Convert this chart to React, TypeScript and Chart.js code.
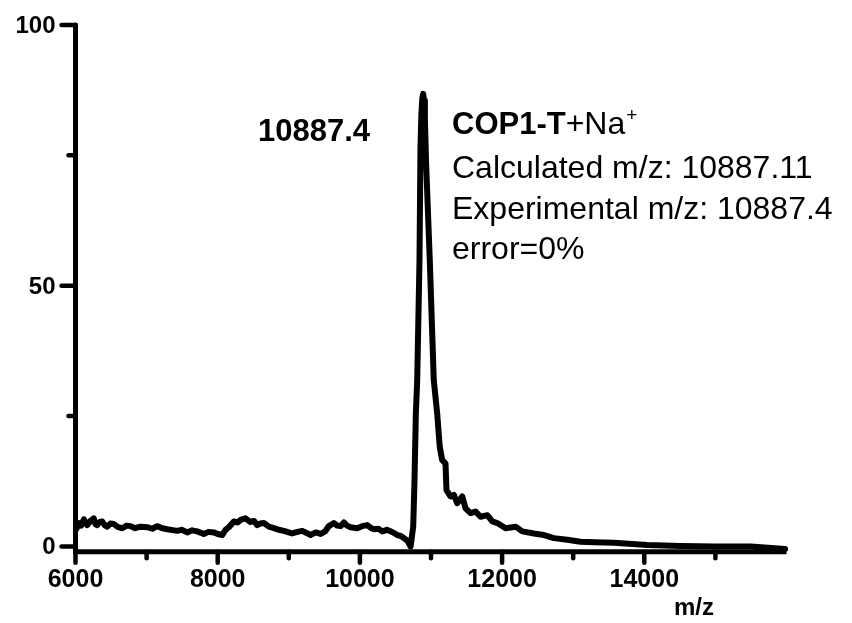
import React, { useEffect, useRef } from "react";
import { Chart, registerables } from "chart.js";

Chart.register(...registerables);

// ---- data ----
const mzValues = [
  6015, 6046, 6080, 6117, 6140, 6164, 6210, 6257, 6280, 6305, 6340, 6375, 6410, 6446, 6490,
  6539, 6600, 6657, 6720, 6774, 6840, 6914, 7008, 7080, 7149, 7220, 7290,
  7430, 7500, 7571, 7640, 7712, 7804, 7870, 7945, 8000, 8063, 8110, 8157, 8227, 8280, 8321,
  8391, 8430, 8462, 8510, 8555, 8600, 8649, 8720, 8790,
  8860, 8930, 9048, 9120, 9189, 9250, 9306, 9380, 9447, 9510, 9564, 9634, 9680, 9728, 9775,
  9820, 9868, 9962, 10030, 10103, 10150, 10197, 10260, 10314,
  10380, 10431, 10480, 10525, 10580, 10619, 10670, 10713, 10750, 10768, 10787, 10806, 10838,
  10852, 10865, 10878, 10890, 10902, 10914,
  10930, 10983, 11039, 11087, 11123, 11157, 11204, 11218, 11274, 11321, 11368, 11439, 11486,
  11556, 11627, 11697, 11791, 11862, 11932, 12049, 12190, 12284, 12447, 12588, 12729, 12916,
  13103, 13300, 13571, 14040, 14509, 15000, 15500, 15980,
];
const intensityValues = [
  3.4, 4.5, 4.0, 5.2, 4.6, 4.1, 4.9, 5.4, 4.3, 4.1, 4.7, 4.8, 4.1, 3.8, 4.4,
  4.3, 3.7, 3.5, 4.0, 3.9, 3.5, 3.8, 3.7, 3.4, 3.9, 3.5, 3.3,
  3.0, 3.2, 2.7, 3.1, 2.9, 2.4, 2.8, 2.7, 2.4, 2.2, 3.2, 3.7, 4.8, 4.6, 5.1,
  5.4, 5.0, 4.7, 4.9, 4.1, 4.4, 4.5, 3.8, 3.5,
  3.2, 3.0, 2.5, 2.8, 3.0, 2.6, 2.2, 2.7, 2.4, 2.9, 3.9, 4.5, 4.0, 3.9, 4.6,
  4.0, 3.7, 3.5, 3.9, 4.1, 3.6, 3.3, 3.4, 2.9,
  3.2, 2.9, 2.6, 2.2, 2.0, 1.6, 1.1, 0.0, 3.8, 12.7, 25.5, 31.9, 54.8,
  76.5, 83.0, 86.0, 86.8, 85.5, 82.0,
  74.0, 54.8, 31.9, 25.5, 19.1, 16.6, 15.9, 10.8, 9.6, 9.9, 8.3, 9.6, 7.3,
  6.4, 6.7, 5.7, 6.0, 4.8, 4.5, 3.5, 3.8, 2.9, 2.5, 2.2, 1.6, 1.3,
  0.9, 0.8, 0.7, 0.3, 0.1, 0.0, 0.0, -0.5,
];

const xMajorTicks = [6000, 8000, 10000, 12000, 14000];
const xMinorTicks = [7000, 9000, 11000, 13000, 15000];
const yMajorTicks = [0, 50, 100];
const yMinorTicks = [25, 75];
const xRange = [6000, 16000];
const yRange = [-1, 100];

const peakLabel = "10887.4";
const compoundName = "COP1-T";
const adductText = "+Na";
const adductCharge = "+";
const infoLines = ["Calculated m/z: 10887.11", "Experimental m/z: 10887.4", "error=0%"];
const xAxisTitle = "m/z";

const FONT = '"Liberation Sans", Arial, Helvetica, sans-serif';

const axesPlugin = {
  id: "msAxes",
  beforeDatasetsDraw(chart: any) {
    const ctx = chart.ctx;
    const xs = chart.scales.x;
    const ys = chart.scales.y;
    const { left, right, bottom } = chart.chartArea;
    ctx.save();
    ctx.strokeStyle = "#000";
    ctx.fillStyle = "#000";
    ctx.lineWidth = 5;
    ctx.lineCap = "round";
    // y axis
    ctx.beginPath();
    ctx.moveTo(left, ys.getPixelForValue(yRange[1]));
    ctx.lineTo(left, bottom);
    ctx.stroke();
    // x axis
    ctx.lineCap = "butt";
    ctx.beginPath();
    ctx.moveTo(left - 2.5, bottom);
    ctx.lineTo(right, bottom);
    ctx.stroke();
    ctx.lineCap = "round";
    ctx.lineWidth = 4.5;
    // y ticks
    yMajorTicks.forEach((v) => {
      const y = ys.getPixelForValue(v);
      ctx.beginPath();
      ctx.moveTo(left - 14, y);
      ctx.lineTo(left, y);
      ctx.stroke();
    });
    yMinorTicks.forEach((v) => {
      const y = ys.getPixelForValue(v);
      ctx.beginPath();
      ctx.moveTo(left - 7, y);
      ctx.lineTo(left, y);
      ctx.stroke();
    });
    // x ticks
    xMajorTicks.forEach((v) => {
      const x = xs.getPixelForValue(v);
      ctx.beginPath();
      ctx.moveTo(x, bottom);
      ctx.lineTo(x, bottom + 11);
      ctx.stroke();
    });
    xMinorTicks.forEach((v) => {
      const x = xs.getPixelForValue(v);
      ctx.beginPath();
      ctx.moveTo(x, bottom);
      ctx.lineTo(x, bottom + 6.5);
      ctx.stroke();
    });
    // tick labels
    ctx.font = `bold 25px ${FONT}`;
    ctx.textAlign = "center";
    ctx.textBaseline = "alphabetic";
    xMajorTicks.forEach((v) => {
      ctx.fillText(String(v), xs.getPixelForValue(v), bottom + 35);
    });
    ctx.font = `bold 24px ${FONT}`;
    ctx.textAlign = "right";
    yMajorTicks.forEach((v) => {
      ctx.fillText(String(v), left - 20, ys.getPixelForValue(v) + 8);
    });
    ctx.restore();
  },
  afterDatasetsDraw(chart: any) {
    const ctx = chart.ctx;
    ctx.save();
    ctx.fillStyle = "#000";
    ctx.textAlign = "left";
    ctx.textBaseline = "alphabetic";
    // peak label
    ctx.font = `bold 31px ${FONT}`;
    ctx.fillText(peakLabel, 258, 141);
    // compound line
    let x = 452;
    const base1 = 133.5;
    ctx.font = `bold 31px ${FONT}`;
    ctx.fillText(compoundName, x, base1);
    x += ctx.measureText(compoundName).width;
    ctx.font = `32px ${FONT}`;
    ctx.fillText(adductText, x, base1);
    x += ctx.measureText(adductText).width + 1;
    ctx.font = `19px ${FONT}`;
    ctx.fillText(adductCharge, x, base1 - 13);
    // info lines
    ctx.font = `32px ${FONT}`;
    const bases = [177.5, 218.5, 258.5];
    infoLines.forEach((t, i) => ctx.fillText(t, 452, bases[i]));
    // axis title
    ctx.font = `bold 24px ${FONT}`;
    ctx.textAlign = "center";
    ctx.fillText(xAxisTitle, 694, 615);
    ctx.restore();
  },
};

export default function App() {
  const ref = useRef<HTMLCanvasElement | null>(null);
  useEffect(() => {
    if (!ref.current) return;
    const points = mzValues.map((m, i) => ({ x: m, y: intensityValues[i] }));
    const chart = new Chart(ref.current, {
      type: "line",
      data: {
        datasets: [
          {
            data: points,
            borderColor: "#000",
            borderWidth: 6,
            pointRadius: 0,
            tension: 0,
            fill: false,
            borderJoinStyle: "round",
            borderCapStyle: "round",
            clip: false,
          } as any,
        ],
      },
      options: {
        responsive: false,
        animation: false,
        events: [],
        layout: { padding: { left: 75.5, right: 65.5, top: 25, bottom: 71.3 } },
        plugins: { legend: { display: false }, tooltip: { enabled: false }, title: { display: false } },
        scales: {
          x: { type: "linear", min: xRange[0], max: xRange[1], display: false },
          y: { type: "linear", min: yRange[0], max: yRange[1], display: false },
        },
      },
      plugins: [axesPlugin],
    });
    return () => chart.destroy();
  }, []);
  return (
    <div style={{ position: "absolute", left: 0, top: 0, width: 852, height: 623, background: "#fff" }}>
      <canvas ref={ref} width={852} height={623} style={{ width: 852, height: 623, display: "block" }} />
    </div>
  );
}
